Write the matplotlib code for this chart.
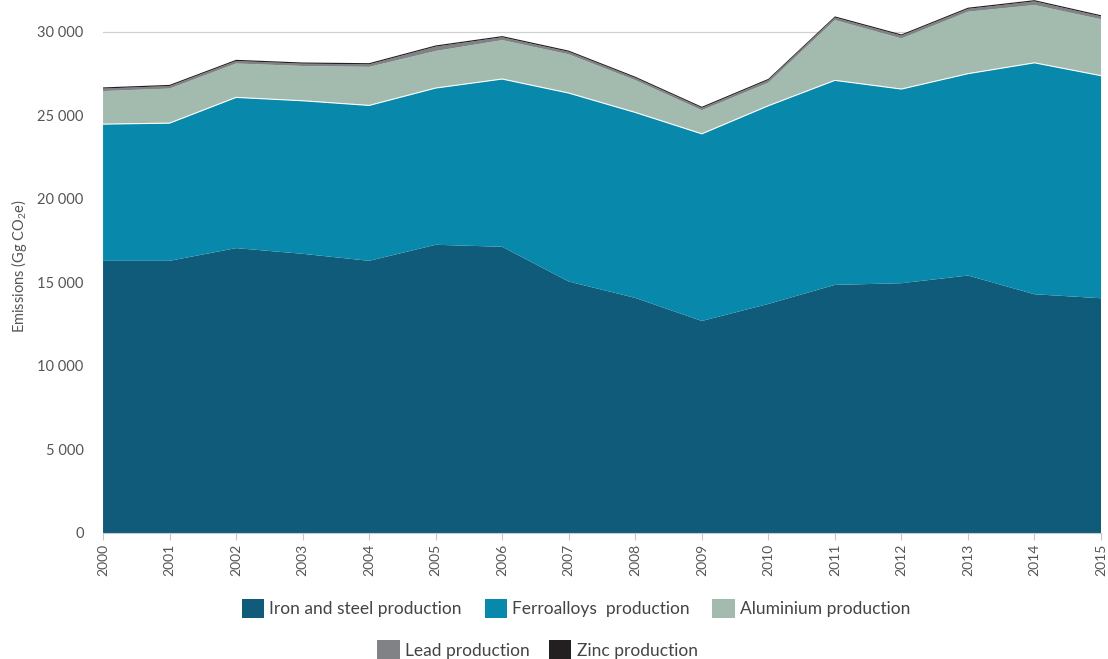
from matplotlib import pyplot as plt
from matplotlib.patches import Patch
from matplotlib.ticker import FuncFormatter
import numpy as np

years = list(range(2000, 2016))
iron_steel = [16290, 16290, 17050, 16710, 16290, 17250, 17130, 15050,
              14070, 12690, 13710, 14850, 14950, 15410, 14290, 14050]
ferroalloys = [8180, 8240, 9020, 9160, 9300, 9380, 10040, 11280,
               11100, 11200, 11860, 12240, 11620, 12080, 13850, 13320]
aluminium = [1980, 2070, 2030, 2080, 2310, 2220, 2330, 2320,
             1930, 1410, 1380, 3610, 3030, 3710, 3460, 3380]
lead = [150, 150, 150, 140, 150, 260, 170, 150,
        140, 140, 160, 150, 170, 170, 220, 170]
zinc = [70, 70, 70, 70, 70, 70, 70, 70,
        70, 70, 70, 70, 70, 70, 70, 70]

labels = ["Iron and steel production", "Ferroalloys  production",
          "Aluminium production", "Lead production", "Zinc production"]
colors = ["#115b7a", "#0889ac", "#a3bbaf", "#808285", "#231f20"]

plt.rcParams['font.family'] = ['Lato', 'DejaVu Sans']
plt.rcParams['mathtext.default'] = 'regular'

fig = plt.figure(figsize=(11.08, 6.59), dpi=100)
ax = fig.add_axes([0.093, 0.1912, 0.9007, 0.8088])

series = [iron_steel, ferroalloys, aluminium, lead, zinc]
ax.stackplot(years, *series, colors=colors, linewidth=0)
# thin white seam between ferroalloys and aluminium
ferro_top = np.array(iron_steel) + np.array(ferroalloys)
ax.plot(years, ferro_top, color="white", lw=0.8)

ax.set_xlim(2000, 2015)
ax.set_ylim(0, 31900)
ax.set_yticks(range(0, 30001, 5000))
ax.yaxis.set_major_formatter(FuncFormatter(lambda v, p: f"{int(v):,}".replace(",", " ")))
ax.set_xticks(years)
ax.set_xticklabels([str(y) for y in years], rotation=90)

ax.set_axisbelow(True)
ax.yaxis.grid(True, color="#d0d0d0", lw=0.9)
for s in ["top", "right", "left"]:
    ax.spines[s].set_visible(False)
ax.spines["bottom"].set_color("#c8c8c8")
ax.tick_params(axis="y", length=0, pad=14, labelsize=10.5, labelcolor="#555555")
ax.tick_params(axis="x", length=5, color="#c8c8c8", pad=3, labelsize=10, labelcolor="#555555")

ax.set_ylabel("Emissions (Gg CO$_2$e)", fontsize=10.5, color="#555555", labelpad=6)

handles = [Patch(facecolor=c, edgecolor="none") for c in colors]
fig.legend(handles[:3], labels[:3], loc="center", bbox_to_anchor=(0.52, 0.077),
           ncol=3, frameon=False, fontsize=12.5, handlelength=1.3, handleheight=1.3,
           handletextpad=0.3, columnspacing=1.3, labelcolor="#444444")
fig.legend(handles[3:], labels[3:], loc="center", bbox_to_anchor=(0.485, 0.014),
           ncol=2, frameon=False, fontsize=12.5, handlelength=1.3, handleheight=1.3,
           handletextpad=0.3, columnspacing=1.1, labelcolor="#444444")

plt.savefig("out.png", dpi=100)
